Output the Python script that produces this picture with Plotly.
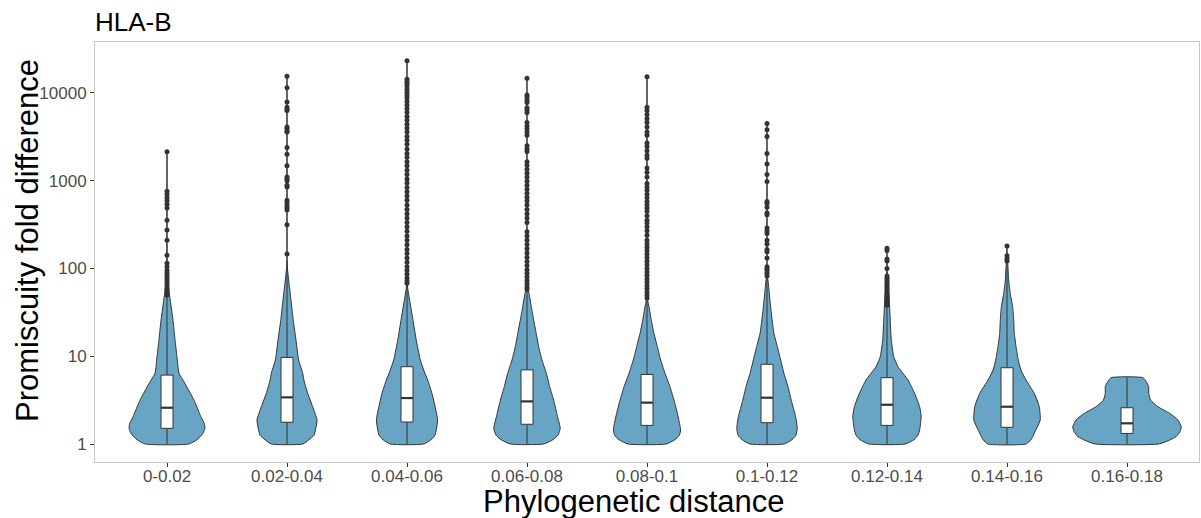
import plotly.graph_objects as go

# Phylogenetic-distance bins (x categories)
categories = ["0-0.02", "0.02-0.04", "0.04-0.06", "0.06-0.08", "0.08-0.1",
              "0.1-0.12", "0.12-0.14", "0.14-0.16", "0.16-0.18"]

# Violin outlines: fold-difference levels and half-width of the density at each level
violin_levels = [
    [1, 1.12, 1.32, 1.51, 1.7, 2.04, 3.16, 5.13, 6.4, 9.89, 15.3, 25.7, 43.7, 61.7, 81.3, 2140],
    [1, 1.12, 1.26, 1.45, 1.88, 2.66, 3.78, 5.37, 6.4, 9.06, 15.3, 25.7, 43.7, 74.1, 105, 15500],
    [1, 1.12, 1.26, 1.45, 1.88, 3.16, 3.78, 5.37, 6.97, 9.06, 15.3, 25.7, 43.7, 56.9, 67.6, 23300],
    [1, 1.12, 1.26, 1.51, 2.04, 3.16, 4.5, 6.4, 9.06, 12.9, 18.2, 25.7, 36.7, 52.1, 61.7, 14700],
    [1, 1.12, 1.26, 1.45, 2.04, 3.16, 4.5, 6.4, 9.06, 12.9, 18.2, 25.7, 36.7, 43.7, 15300],
    [1, 1.12, 1.26, 1.51, 2.04, 3.16, 4.5, 6.4, 9.06, 12.9, 18.2, 30.9, 52.1, 74.1, 81.3, 4500],
    [1, 1.12, 1.26, 1.45, 2.04, 2.66, 3.78, 5.37, 7.59, 9.89, 15.3, 25.7, 36.3, 52.5, 74.1, 105, 170],
    [1, 1.12, 1.45, 1.88, 2.66, 3.78, 5.37, 6.97, 9.06, 12.9, 18.2, 25.7, 36.7, 52.1, 74.1, 105, 148, 180],
    [1, 1.1, 1.21, 1.38, 1.57, 1.88, 2.24, 2.66, 3.16, 3.78, 4.5, 5.13, 5.7],
]
violin_halfwidth = [
    [0.181, 0.25, 0.3, 0.316, 0.312, 0.283, 0.225, 0.141, 0.1, 0.083, 0.067, 0.05, 0.027, 0.012, 0.004, 0],
    [0.131, 0.183, 0.225, 0.237, 0.25, 0.214, 0.172, 0.141, 0.131, 0.097, 0.075, 0.052, 0.033, 0.014, 0.0025, 0],
    [0.139, 0.2, 0.233, 0.244, 0.255, 0.222, 0.208, 0.172, 0.139, 0.111, 0.077, 0.05, 0.022, 0.008, 0.0025, 0],
    [0.139, 0.216, 0.258, 0.277, 0.255, 0.222, 0.189, 0.161, 0.125, 0.097, 0.077, 0.056, 0.036, 0.017, 0.006, 0],
    [0.158, 0.233, 0.27, 0.28, 0.26, 0.225, 0.191, 0.15, 0.114, 0.086, 0.058, 0.036, 0.017, 0.006, 0],
    [0.141, 0.208, 0.241, 0.252, 0.239, 0.202, 0.175, 0.141, 0.114, 0.086, 0.058, 0.036, 0.019, 0.008, 0.0025, 0],
    [0.15, 0.225, 0.258, 0.272, 0.285, 0.272, 0.23, 0.175, 0.092, 0.056, 0.036, 0.027, 0.022, 0.014, 0.006, 0.002, 0],
    [0.158, 0.2, 0.241, 0.277, 0.269, 0.227, 0.158, 0.116, 0.094, 0.075, 0.061, 0.056, 0.047, 0.027, 0.014, 0.008, 0.0025, 0],
    [0.264, 0.349, 0.408, 0.441, 0.452, 0.424, 0.355, 0.258, 0.197, 0.181, 0.181, 0.161, 0.133],
]

# Box-plot summary per bin
box_q1 = [1.51, 1.77, 1.78, 1.68, 1.63, 1.75, 1.63, 1.55, 1.32]
box_median = [2.59, 3.4, 3.34, 3.06, 2.96, 3.37, 2.8, 2.66, 1.72]
box_q3 = [6.1, 9.7, 7.6, 7.0, 6.2, 8.1, 5.7, 7.4, 2.59]
whisker_low = [1, 1, 1, 1, 1, 1, 1, 1, 1]
whisker_high = [48, 120, 66, 57, 45, 78, 36, 115, 5.7]

# Outlying observations per bin
outliers = [
    [2140, 760, 700, 640, 590, 540, 490, 355, 275, 210, 142, 115, 105, 95, 88, 82,
     77, 72, 67, 63, 59, 56, 53, 50],
    [15500, 11500, 7900, 6900, 6500, 6300, 4100, 3900, 3700, 3600, 2400, 2000, 1480,
     1100, 1050, 1000, 890, 850, 600, 560, 520, 490, 465, 315, 146],
    [23300, 14300, 13500, 12800, 12000, 11000, 10200, 9500, 8800, 8000, 7300, 6600,
     6000, 5400, 4900, 4400, 4000, 3600, 3200, 2900, 2600, 2300, 2050, 1850, 1650,
     1480, 1320, 1180, 1050, 940, 840, 750, 670, 600, 530, 470, 420, 375, 335, 300,
     265, 235, 210, 186, 165, 148, 132, 118, 105, 95, 86, 78, 72, 68],
    [14700, 9500, 9000, 8300, 7800, 6800, 6400, 6000, 4600, 4200, 3900, 3600, 3300,
     2500, 2300, 2150, 1650, 1500, 1350, 1220, 1100, 990, 890, 800, 720, 650, 590,
     530, 470, 420, 375, 335, 263, 235, 210, 188, 168, 150, 134, 120, 108, 97, 88,
     80, 73, 67, 62, 58],
    [15300, 6900, 6300, 5700, 5100, 4600, 4100, 3600, 3300, 2700, 2450, 2200, 1950,
     1800, 1400, 1250, 1100, 930, 850, 780, 700, 640, 580, 530, 490, 450, 400, 355,
     330, 300, 270, 240, 210, 190, 175, 160, 146, 133, 121, 110, 100, 91, 83, 76,
     70, 64, 59, 54, 50, 46],
    [4500, 3800, 3200, 2050, 1550, 1180, 980, 580, 550, 500, 430, 410, 290, 270, 250,
     210, 190, 165, 155, 132, 105, 100, 95, 88, 82],
    [170, 160, 128, 122, 100, 82, 78, 74, 70, 67, 64, 61, 58, 55, 52, 50, 48, 46, 44,
     42, 40, 38],
    [180, 140, 130, 122],
    [],
]

VIOLIN_FILL = "#68a4c3"
INK = "#333333"
BOX_WIDTH = 0.1

fig = go.Figure()

# Violins: right edge upwards, left edge back down, closed along the base
for i, (levels, hw) in enumerate(zip(violin_levels, violin_halfwidth)):
    xs = [i + w for w in hw] + [i - w for w in reversed(hw)] + [i + hw[0]]
    ys = list(levels) + list(reversed(levels)) + [levels[0]]
    fig.add_trace(go.Scatter(
        x=xs, y=ys, mode="lines", fill="toself", fillcolor=VIOLIN_FILL,
        line=dict(color=INK, width=1, shape="spline", smoothing=0.5),
        hoverinfo="skip", showlegend=False))

# Whiskers (no caps)
wx, wy = [], []
for i in range(len(categories)):
    wx += [i, i, None, i, i, None]
    wy += [whisker_low[i], box_q1[i], None, box_q3[i], whisker_high[i], None]
fig.add_trace(go.Scatter(x=wx, y=wy, mode="lines", line=dict(color=INK, width=1),
                         hoverinfo="skip", showlegend=False))

# Boxes (interquartile range)
for i in range(len(categories)):
    half = BOX_WIDTH / 2
    fig.add_trace(go.Scatter(
        x=[i - half, i + half, i + half, i - half, i - half],
        y=[box_q1[i], box_q1[i], box_q3[i], box_q3[i], box_q1[i]],
        mode="lines", fill="toself", fillcolor="white",
        line=dict(color=INK, width=1), hoverinfo="skip", showlegend=False))

# Thicker median bars
mx, my = [], []
for i, m in enumerate(box_median):
    mx += [i - BOX_WIDTH / 2, i + BOX_WIDTH / 2, None]
    my += [m, m, None]
fig.add_trace(go.Scatter(x=mx, y=my, mode="lines",
                         line=dict(color=INK, width=2.2),
                         hoverinfo="skip", showlegend=False))

# Outlier points
ox, oy = [], []
for i, pts in enumerate(outliers):
    ox += [i] * len(pts)
    oy += pts
fig.add_trace(go.Scatter(x=ox, y=oy, mode="markers",
                         marker=dict(color=INK, size=5, line=dict(width=0)),
                         hoverinfo="skip", showlegend=False))

FONT = "Liberation Sans, Arial, sans-serif"

fig.update_layout(
    width=1201, height=518,
    margin=dict(l=95, r=2, t=42, b=56),
    paper_bgcolor="white", plot_bgcolor="white",
    font=dict(family=FONT, color="#4d4d4d"),
    title=dict(text="HLA-B", x=95 / 1201, xanchor="left", xref="container",
               y=1 - 22 / 518, yanchor="middle", yref="container",
               font=dict(size=26, color="black", family=FONT)),
    xaxis=dict(
        range=[-0.6, 8.6], tickmode="array", tickvals=list(range(len(categories))),
        ticktext=categories,
        showgrid=False, zeroline=False,
        showline=True, linecolor="#c8c8c8", linewidth=1, mirror=True,
        ticks="outside", ticklen=4, tickcolor=INK, tickwidth=1,
        ticklabelstandoff=-5,
        tickfont=dict(size=17, color="#4d4d4d"),
    ),
    yaxis=dict(
        type="log", range=[-0.205, 4.581],
        tickmode="array", tickvals=[1, 10, 100, 1000, 10000],
        ticktext=["1", "10", "100", "1000", "10000"],
        showgrid=False, zeroline=False,
        showline=True, linecolor="#c8c8c8", linewidth=1, mirror=True,
        ticks="outside", ticklen=4, tickcolor=INK, tickwidth=1,
        tickfont=dict(size=17, color="#4d4d4d"),
    ),
    annotations=[
        dict(text="Phylogenetic distance", xref="paper", yref="paper",
             x=0.488, y=-0.093, xanchor="center", yanchor="middle",
             showarrow=False, font=dict(size=31, color="black", family=FONT)),
        dict(text="Promiscuity fold difference", xref="paper", yref="paper",
             x=-0.0607, y=0.5286, xanchor="center", yanchor="middle",
             textangle=-90, showarrow=False,
             font=dict(size=31, color="black", family=FONT)),
    ],
)

fig.write_html("out.html")
